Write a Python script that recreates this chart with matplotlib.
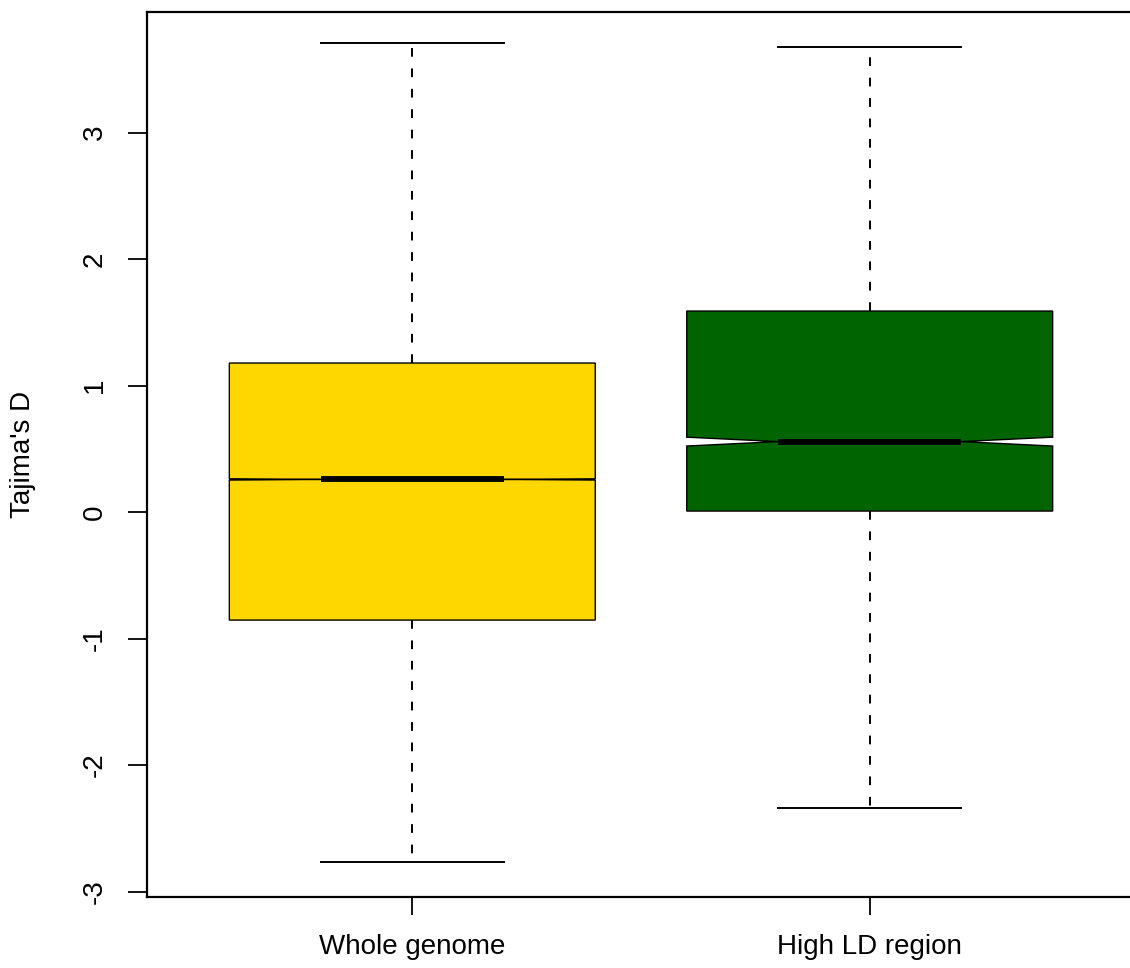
import matplotlib
matplotlib.use("Agg")
import matplotlib.pyplot as plt

# Five-number summaries plus notch bounds for Tajima's D
groups   = ["Whole genome", "High LD region"]
whislo   = [-2.77, -2.34]
q1       = [-0.854, 0.008]
median   = [0.258, 0.557]
q3       = [1.178, 1.589]
whishi   = [3.71, 3.676]
ci_lo    = [0.253, 0.522]
ci_hi    = [0.263, 0.592]
colors   = ["#FFD700", "#006400"]
yticks   = [-3, -2, -1, 0, 1, 2, 3]

plt.rcParams["font.family"] = ["Liberation Sans", "DejaVu Sans"]
plt.rcParams["font.size"] = 20

W, H = 1130, 968
fig = plt.figure(figsize=(W / 100, H / 100), dpi=100)
# plot region; right edge sits just past the canvas
ax = fig.add_axes([147 / W, 71 / H, (1135 - 147) / W, (897 - 12) / H])

stats = []
for i, name in enumerate(groups):
    stats.append(dict(label=name, whislo=whislo[i], q1=q1[i], med=median[i],
                      q3=q3[i], whishi=whishi[i], cilo=ci_lo[i], cihi=ci_hi[i],
                      fliers=[]))

bp = ax.bxp(stats, positions=[1, 2], widths=0.8, shownotches=True, patch_artist=True,
            showfliers=False,
            boxprops=dict(edgecolor="black", linewidth=1.0),
            medianprops=dict(color="black", linewidth=4.2, solid_capstyle="butt"),
            whiskerprops=dict(color="black", linewidth=1.4, linestyle=(0, (4.5, 6))),
            capprops=dict(color="black", linewidth=1.4))
for patch, c in zip(bp["boxes"], colors):
    patch.set_facecolor(c)

ax.set_xlim(0.42, 2.58)
ax.set_ylim(-3.043, 3.953)

ax.set_yticks(yticks)
ax.set_yticklabels([str(v) for v in yticks], rotation=90, va="center")
ax.set_xticks([1, 2])
ax.set_xticklabels(groups)

ax.tick_params(axis="y", length=14, width=1.3, pad=14, colors="black")
ax.tick_params(axis="x", length=13, width=1.3, pad=14, colors="black")
for s in ax.spines.values():
    s.set_linewidth(1.6)

ax.set_ylabel("Tajima's D")
ax.yaxis.set_label_coords((36 - 147) / 988, 0.5)

fig.savefig("out.png", dpi=100)
